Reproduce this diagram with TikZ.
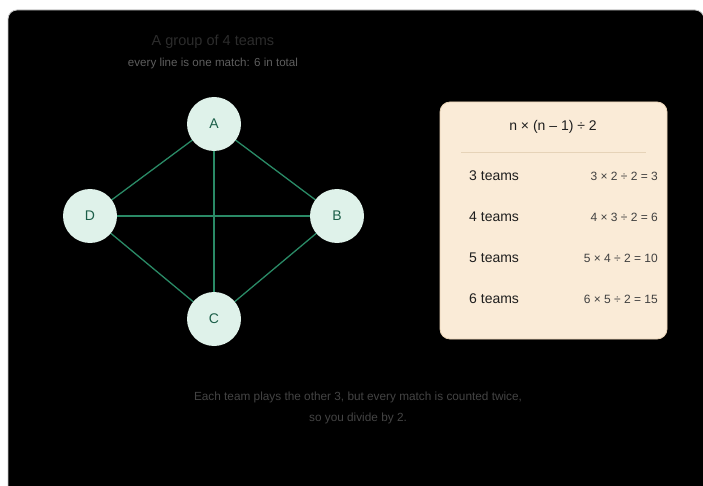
\documentclass[tikz,border=0pt]{standalone}
\usepackage{fontspec}
\setmainfont{Liberation Sans}
\definecolor{panelbg}{HTML}{000000}
\definecolor{teamfill}{HTML}{DFF2EA}
\definecolor{teamtext}{HTML}{1B5E48}
\definecolor{matchline}{HTML}{2A8A66}
\definecolor{cardfill}{HTML}{FAEBD7}
\definecolor{cardedge}{HTML}{E9D4B6}
\definecolor{cardrule}{HTML}{E6D3B8}
\definecolor{cardtext}{HTML}{1E1E1E}
\definecolor{calctext}{HTML}{404040}
\definecolor{titletext}{HTML}{2C2C2C}
\definecolor{subtext}{HTML}{5E5E5E}
\definecolor{notetext}{HTML}{444444}
\tikzset{
  team/.style={circle, fill=teamfill, minimum size=54pt, inner sep=0pt,
    text=teamtext, font=\fontsize{14}{16}\selectfont},
  match/.style={draw=matchline, line width=1.3pt},
  rowlabel/.style={anchor=west, text=cardtext, inner sep=0pt,
    font=\fontsize{14}{16}\selectfont},
  rowcalc/.style={anchor=east, text=calctext, inner sep=0pt,
    font=\fontsize{12}{14}\selectfont},
  note/.style={text=notetext, inner sep=0pt, font=\fontsize{11.8}{14}\selectfont}
}
\begin{document}
\begin{tikzpicture}[x=1pt,y=-1pt]
  \useasboundingbox (0,0) rectangle (703,486);
  \clip (0,0) rectangle (703,486);
  \fill[white] (0,0) rectangle (703,486);
  % dark panel
  \draw[fill=panelbg, draw=black!22, line width=0.8pt, rounded corners=9pt]
    (8,10) rectangle (704,520);

  % headings
  \node[text=titletext, inner sep=0pt, font=\fontsize{14.5}{16}\selectfont] (title) at (213,42) {A group of 4 teams};
  \node[text=subtext, inner sep=0pt, font=\fontsize{11.6}{14}\selectfont] (subtitle) at (213,64) {every line is one match: 6 in total};

  % matches
  \coordinate (Ac) at (214,124);
  \coordinate (Bc) at (337,216);
  \coordinate (Cc) at (214,319);
  \coordinate (Dc) at (90,216);
  \draw[match] (Ac) -- (Bc);
  \draw[match] (Ac) -- (Cc);
  \draw[match] (Ac) -- (Dc);
  \draw[match] (Bc) -- (Cc);
  \draw[match] (Bc) -- (Dc);
  \draw[match] (Cc) -- (Dc);

  % teams
  \node[team] (A) at (Ac) {A};
  \node[team] (B) at (Bc) {B};
  \node[team] (C) at (Cc) {C};
  \node[team] (D) at (Dc) {D};

  % formula card
  \draw[fill=cardfill, draw=cardedge, line width=0.8pt, rounded corners=10pt]
    (440,102) rectangle (667,339);
  \node[text=cardtext, inner sep=0pt, font=\fontsize{14}{16}\selectfont] (formula) at (553,127) {n × (n – 1) ÷ 2};
  \coordinate (ruleL) at (461,152);
  \coordinate (ruleR) at (646,152);
  \draw[cardrule, line width=0.8pt] (ruleL) -- (ruleR);

  \node[rowlabel] (r3) at (469,176) {3 teams};
  \node[rowcalc]  (c3) at (658,176) {3 × 2 ÷ 2 = 3};
  \node[rowlabel] (r4) at (469,217) {4 teams};
  \node[rowcalc]  (c4) at (658,217) {4 × 3 ÷ 2 = 6};
  \node[rowlabel] (r5) at (469,258) {5 teams};
  \node[rowcalc]  (c5) at (658,258) {5 × 4 ÷ 2 = 10};
  \node[rowlabel] (r6) at (469,299) {6 teams};
  \node[rowcalc]  (c6) at (658,299) {6 × 5 ÷ 2 = 15};

  % explanation
  \node[note] (note1) at (358,397) {Each team plays the other 3, but every match is counted twice,};
  \node[note] (note2) at (358,418) {so you divide by 2.};
\end{tikzpicture}
\end{document}
